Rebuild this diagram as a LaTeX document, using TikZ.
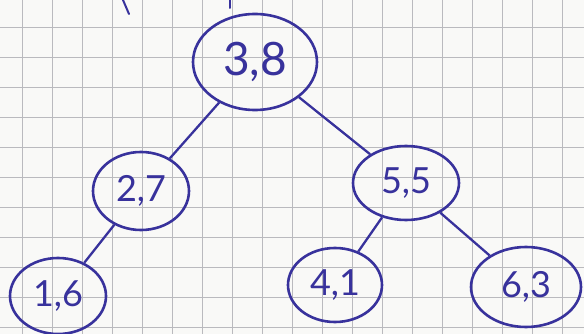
\documentclass[tikz,border=0pt]{standalone}
\usepackage{fontspec}
\setmainfont{Lato}
\usepackage{xcolor}
\usepackage{tikz}
\usetikzlibrary{shapes.geometric}

\definecolor{ink}{RGB}{56,50,156}
\definecolor{paper}{RGB}{249,249,247}
\definecolor{gridline}{RGB}{186,186,190}

\begin{document}
\begin{tikzpicture}[x=1pt,y=-1pt,
    keynode/.style={ellipse,draw=ink,line width=2.6pt,text=ink,inner sep=0pt,font=\fontsize{36}{36}\selectfont},
    treeedge/.style={draw=ink,line width=2.3pt}]
    % paper and grid
    \fill[paper] (0,0) rectangle (584,334);
    \useasboundingbox (0,0) rectangle (584,334);
    \foreach \x in {22,52,...,562}{\draw[gridline,line width=0.9pt] (\x,0) -- (\x,334);}
    \foreach \y in {27,57,...,327}{\draw[gridline,line width=0.9pt] (0,\y) -- (584,\y);}
    % cut-off strokes at the top
    \draw[ink,line width=2pt,line cap=round] (123,0) -- (129,14);
    \draw[ink,line width=2pt,line cap=round] (230,0) -- (230,8);
    % the tree
    \node[keynode,minimum width=124pt,minimum height=96pt,font=\fontsize{46}{46}\selectfont] (k38) at (255,62) {3,8};
    \node[keynode,minimum width=96pt,minimum height=78pt] (k27) at (141,191) {2,7};
    \node[keynode,minimum width=106pt,minimum height=74pt] (k55) at (406,183) {5,5};
    \node[keynode,minimum width=96pt,minimum height=76pt] (k16) at (58,296) {1,6};
    \node[keynode,minimum width=94pt,minimum height=74pt] (k41) at (335,285) {4,1};
    \node[keynode,minimum width=110pt,minimum height=80pt] (k63) at (526,287) {6,3};
    \draw[treeedge] (k38) -- (k27);
    \draw[treeedge] (k38) -- (k55);
    \draw[treeedge] (k27) -- (k16);
    \draw[treeedge] (k55) -- (k41);
    \draw[treeedge] (k55) -- (k63);
\end{tikzpicture}
\end{document}
